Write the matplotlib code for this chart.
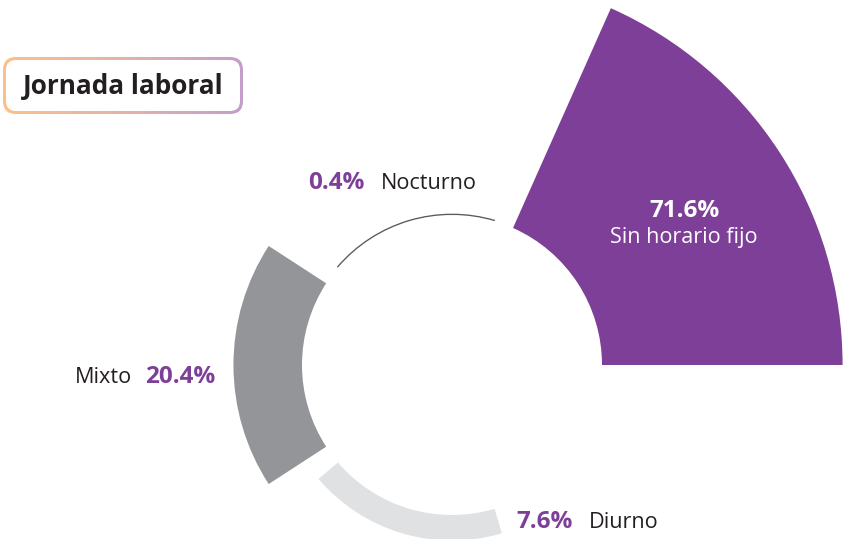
import matplotlib
matplotlib.use("Agg")
import matplotlib.pyplot as plt
import numpy as np
from matplotlib.patches import Wedge, FancyBboxPatch
from matplotlib.colors import LinearSegmentedColormap

# ---- data ----
categories = ["Sin horario fijo", "Nocturno", "Mixto", "Diurno"]
values = [71.6, 0.4, 20.4, 7.6]
pct_labels = ["71.6%", "0.4%", "20.4%", "7.6%"]
colors = ["#7E3F98", "#58595B", "#939598", "#E0E1E2"]
title = "Jornada laboral"

PURPLE = "#7E3F98"
DARK = "#231F20"
FONT = "Open Sans"

W, H = 844, 539
fig = plt.figure(figsize=(W / 100, H / 100), dpi=100)
ax = fig.add_axes([0, 0, 1, 1])
ax.set_xlim(0, W)
ax.set_ylim(0, H)
ax.set_aspect("equal")
ax.axis("off")

def Y(y_img):
    return H - y_img

# ---- radial segments ----
cx, cy = 452, Y(365)
r_in = 150
k = 3.36          # px per percentage point
step = 73.5       # degrees between segment starts
span = 66.0       # angular width of each segment
for i, (v, c) in enumerate(zip(values, colors)):
    t1 = i * step
    t2 = t1 + span
    w = max(k * v, 1.2)
    ax.add_patch(Wedge((cx, cy), r_in + w, t1, t2, width=w,
                       facecolor=c, edgecolor="none"))

# ---- title box with gradient border ----
bx0, by0, bx1, by1 = 3, Y(114), 243, Y(57)
outer = FancyBboxPatch((bx0, by0), bx1 - bx0, by1 - by0,
                       boxstyle="round,pad=0,rounding_size=13",
                       facecolor="none", edgecolor="none")
ax.add_patch(outer)
cmap = LinearSegmentedColormap.from_list("g", ["#FBC18C", "#E3B3A8", "#C59DCB"])
grad = np.linspace(0, 1, 256).reshape(1, -1)
im = ax.imshow(grad, cmap=cmap, extent=(bx0, bx1, by0, by1), aspect="auto",
               zorder=2, interpolation="bilinear")
im.set_clip_path(outer)
b = 3
inner = FancyBboxPatch((bx0 + b, by0 + b), bx1 - bx0 - 2 * b, by1 - by0 - 2 * b,
                       boxstyle="round,pad=0,rounding_size=10",
                       facecolor="white", edgecolor="none", zorder=3)
ax.add_patch(inner)
ax.text((bx0 + bx1) / 2, Y(86), title, ha="center", va="center",
        fontsize=18.8, fontweight="bold", color=DARK, family=FONT, zorder=4)

# ---- labels ----
fs = 15.6
fsb = 17.5
# Sin horario fijo (inside)
ax.text(684, Y(217), pct_labels[0], ha="center", va="baseline", fontsize=fsb,
        fontweight="bold", color="white", family=FONT)
ax.text(684, Y(243), categories[0], ha="center", va="baseline", fontsize=fs,
        color="white", family=FONT)
# Nocturno
ax.text(308, Y(189), pct_labels[1], ha="left", va="baseline", fontsize=fsb,
        fontweight="bold", color=PURPLE, family=FONT)
ax.text(381, Y(189), categories[1], ha="left", va="baseline", fontsize=fs,
        color=DARK, family=FONT)
# Mixto
ax.text(75, Y(383), categories[2], ha="left", va="baseline", fontsize=fs,
        color=DARK, family=FONT)
ax.text(145, Y(383), pct_labels[2], ha="left", va="baseline", fontsize=fsb,
        fontweight="bold", color=PURPLE, family=FONT)
# Diurno
ax.text(516, Y(528), pct_labels[3], ha="left", va="baseline", fontsize=fsb,
        fontweight="bold", color=PURPLE, family=FONT)
ax.text(589, Y(528), categories[3], ha="left", va="baseline", fontsize=fs,
        color=DARK, family=FONT)

fig.savefig("out.png", dpi=100, facecolor="white")
